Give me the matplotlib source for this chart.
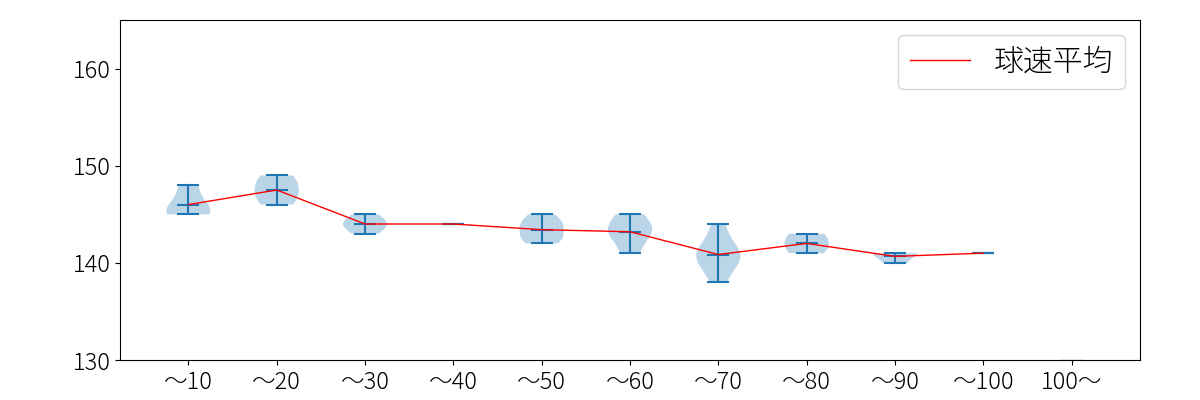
import matplotlib
matplotlib.use("Agg")
import matplotlib.pyplot as plt
import numpy as np

plt.rcParams['font.family'] = ['Noto Sans CJK JP', 'DejaVu Sans']
plt.rcParams['font.weight'] = 'light'

categories = ["～10", "～20", "～30", "～40", "～50", "～60", "～70", "～80", "～90", "～100", "100～"]

speeds_10 = [145, 145, 146, 148]
speeds_20 = [146, 147, 148, 149]
speeds_30 = [143, 144, 144, 145]
speeds_40 = [144]
speeds_50 = [142, 142.5, 143, 144, 144, 145]
speeds_60 = [141, 143, 143, 144, 145]
speeds_70 = [138, 140, 140, 141, 141, 142, 144]
speeds_80 = [141, 142, 143]
speeds_90 = [140, 141, 141]
speeds_100 = [141]
speeds_over = [129.93]

data = [speeds_10, speeds_20, speeds_30, speeds_40, speeds_50, speeds_60,
        speeds_70, speeds_80, speeds_90, speeds_100, speeds_over]

positions = np.arange(1, len(categories) + 1)

fig, ax = plt.subplots(figsize=(12, 4), dpi=100)
fig.subplots_adjust(left=0.1, right=0.95, bottom=0.1, top=0.95)

ax.violinplot(data, positions=positions, showmeans=True, showextrema=True)

mean_vals = [np.mean(d) for d in data[:10]]
ax.plot(positions[:10], mean_vals, color='red', linewidth=1, label='球速平均')

ax.set_xticks(positions)
ax.set_xticklabels(categories, fontsize=17)
ax.tick_params(axis='y', labelsize=17)
ax.set_ylim(130, 165)
ax.set_yticks([130, 140, 150, 160])
ax.legend(loc='upper right', fontsize=21.5)

fig.savefig("out.png")
